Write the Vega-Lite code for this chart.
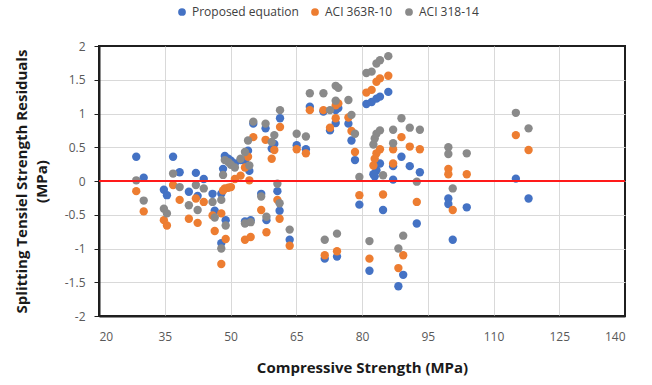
{
  "$schema": "https://vega.github.io/schema/vega-lite/v6.json",
  "width": 526,
  "height": 270,
  "autosize": {"type": "none"},
  "padding": {"left": 99, "top": 46, "right": 27, "bottom": 69},
  "background": "white",
  "config": {
    "font": "Open Sans",
    "view": {"stroke": "#1f1f1f", "strokeWidth": 2, "strokeOpacity": 1},
    "axis": {"gridWidth": 1, "labelColor": "#595959", "labelFontSize": 12, "titleColor": "#1a1a1a", "titleFontSize": 15, "titleFontWeight": "bold", "domain": true, "domainColor": "#1f1f1f", "domainWidth": 2, "tickColor": "#1f1f1f", "labelOverlap": false}
  },
  "data": {"values": [
    {"x":28.5,"y":0.36,"s":"Proposed equation"},{"x":30.2,"y":0.05,"s":"Proposed equation"},{"x":34.8,"y":-0.13,"s":"Proposed equation"},{"x":35.5,"y":-0.21,"s":"Proposed equation"},{"x":36.9,"y":0.36,"s":"Proposed equation"},{"x":38.4,"y":0.13,"s":"Proposed equation"},{"x":40.5,"y":-0.16,"s":"Proposed equation"},{"x":42.1,"y":0.12,"s":"Proposed equation"},{"x":42.5,"y":-0.22,"s":"Proposed equation"},{"x":43.9,"y":0.03,"s":"Proposed equation"},{"x":45.9,"y":-0.19,"s":"Proposed equation"},{"x":46.4,"y":-0.44,"s":"Proposed equation"},{"x":47.9,"y":-0.19,"s":"Proposed equation"},{"x":48.9,"y":-0.58,"s":"Proposed equation"},{"x":47.9,"y":-0.92,"s":"Proposed equation"},{"x":48.7,"y":0.37,"s":"Proposed equation"},{"x":49.5,"y":0.33,"s":"Proposed equation"},{"x":50.1,"y":0.3,"s":"Proposed equation"},{"x":48.3,"y":0.18,"s":"Proposed equation"},{"x":51.0,"y":0.26,"s":"Proposed equation"},{"x":52.3,"y":0.31,"s":"Proposed equation"},{"x":53.3,"y":0.3,"s":"Proposed equation"},{"x":54.0,"y":0.45,"s":"Proposed equation"},{"x":54.3,"y":0.15,"s":"Proposed equation"},{"x":55.2,"y":0.85,"s":"Proposed equation"},{"x":58.0,"y":0.78,"s":"Proposed equation"},{"x":59.4,"y":0.48,"s":"Proposed equation"},{"x":60.0,"y":0.55,"s":"Proposed equation"},{"x":61.3,"y":0.93,"s":"Proposed equation"},{"x":53.3,"y":-0.6,"s":"Proposed equation"},{"x":54.6,"y":-0.58,"s":"Proposed equation"},{"x":57.0,"y":-0.19,"s":"Proposed equation"},{"x":58.2,"y":-0.58,"s":"Proposed equation"},{"x":60.7,"y":-0.15,"s":"Proposed equation"},{"x":61.2,"y":-0.44,"s":"Proposed equation"},{"x":63.5,"y":-0.87,"s":"Proposed equation"},{"x":65.1,"y":0.53,"s":"Proposed equation"},{"x":67.2,"y":0.47,"s":"Proposed equation"},{"x":68.1,"y":1.1,"s":"Proposed equation"},{"x":71.2,"y":1.03,"s":"Proposed equation"},{"x":72.7,"y":0.75,"s":"Proposed equation"},{"x":74.0,"y":1.05,"s":"Proposed equation"},{"x":74.6,"y":1.08,"s":"Proposed equation"},{"x":74.0,"y":0.86,"s":"Proposed equation"},{"x":76.9,"y":0.85,"s":"Proposed equation"},{"x":77.6,"y":0.6,"s":"Proposed equation"},{"x":78.4,"y":0.31,"s":"Proposed equation"},{"x":79.4,"y":-0.35,"s":"Proposed equation"},{"x":71.5,"y":-1.15,"s":"Proposed equation"},{"x":74.3,"y":-1.12,"s":"Proposed equation"},{"x":81.0,"y":1.14,"s":"Proposed equation"},{"x":82.2,"y":1.17,"s":"Proposed equation"},{"x":83.3,"y":1.22,"s":"Proposed equation"},{"x":84.1,"y":1.25,"s":"Proposed equation"},{"x":86.0,"y":1.32,"s":"Proposed equation"},{"x":84.1,"y":0.26,"s":"Proposed equation"},{"x":83.3,"y":0.16,"s":"Proposed equation"},{"x":82.9,"y":0.07,"s":"Proposed equation"},{"x":82.6,"y":0.1,"s":"Proposed equation"},{"x":84.8,"y":-0.43,"s":"Proposed equation"},{"x":87.1,"y":0.22,"s":"Proposed equation"},{"x":87.1,"y":0.02,"s":"Proposed equation"},{"x":89.0,"y":0.36,"s":"Proposed equation"},{"x":90.9,"y":0.22,"s":"Proposed equation"},{"x":93.2,"y":0.13,"s":"Proposed equation"},{"x":92.5,"y":-0.63,"s":"Proposed equation"},{"x":81.7,"y":-1.33,"s":"Proposed equation"},{"x":89.4,"y":-1.39,"s":"Proposed equation"},{"x":88.3,"y":-1.56,"s":"Proposed equation"},{"x":99.7,"y":-0.26,"s":"Proposed equation"},{"x":99.7,"y":-0.34,"s":"Proposed equation"},{"x":100.7,"y":-0.87,"s":"Proposed equation"},{"x":103.9,"y":-0.39,"s":"Proposed equation"},{"x":115.1,"y":0.035,"s":"Proposed equation"},{"x":118.0,"y":-0.26,"s":"Proposed equation"},
    {"x":28.5,"y":-0.15,"s":"ACI 363R-10"},{"x":30.2,"y":-0.45,"s":"ACI 363R-10"},{"x":34.8,"y":-0.58,"s":"ACI 363R-10"},{"x":35.5,"y":-0.66,"s":"ACI 363R-10"},{"x":36.9,"y":-0.06,"s":"ACI 363R-10"},{"x":38.4,"y":-0.28,"s":"ACI 363R-10"},{"x":40.5,"y":-0.56,"s":"ACI 363R-10"},{"x":42.1,"y":-0.26,"s":"ACI 363R-10"},{"x":42.5,"y":-0.62,"s":"ACI 363R-10"},{"x":43.9,"y":-0.31,"s":"ACI 363R-10"},{"x":45.9,"y":-0.51,"s":"ACI 363R-10"},{"x":46.4,"y":-0.74,"s":"ACI 363R-10"},{"x":47.9,"y":-0.48,"s":"ACI 363R-10"},{"x":48.9,"y":-0.86,"s":"ACI 363R-10"},{"x":47.9,"y":-1.23,"s":"ACI 363R-10"},{"x":48.7,"y":-0.11,"s":"ACI 363R-10"},{"x":49.5,"y":-0.1,"s":"ACI 363R-10"},{"x":50.1,"y":-0.09,"s":"ACI 363R-10"},{"x":48.3,"y":-0.14,"s":"ACI 363R-10"},{"x":51.0,"y":0.03,"s":"ACI 363R-10"},{"x":52.3,"y":0.08,"s":"ACI 363R-10"},{"x":53.3,"y":0.2,"s":"ACI 363R-10"},{"x":54.0,"y":0.36,"s":"ACI 363R-10"},{"x":54.3,"y":0.01,"s":"ACI 363R-10"},{"x":55.2,"y":0.65,"s":"ACI 363R-10"},{"x":58.0,"y":0.61,"s":"ACI 363R-10"},{"x":59.4,"y":0.33,"s":"ACI 363R-10"},{"x":60.0,"y":0.46,"s":"ACI 363R-10"},{"x":61.3,"y":0.8,"s":"ACI 363R-10"},{"x":53.3,"y":-0.87,"s":"ACI 363R-10"},{"x":54.6,"y":-0.83,"s":"ACI 363R-10"},{"x":57.0,"y":-0.43,"s":"ACI 363R-10"},{"x":58.2,"y":-0.76,"s":"ACI 363R-10"},{"x":60.7,"y":-0.28,"s":"ACI 363R-10"},{"x":61.2,"y":-0.56,"s":"ACI 363R-10"},{"x":63.5,"y":-0.96,"s":"ACI 363R-10"},{"x":65.1,"y":0.47,"s":"ACI 363R-10"},{"x":67.2,"y":0.41,"s":"ACI 363R-10"},{"x":68.1,"y":1.05,"s":"ACI 363R-10"},{"x":71.2,"y":1.05,"s":"ACI 363R-10"},{"x":72.7,"y":0.79,"s":"ACI 363R-10"},{"x":74.0,"y":1.12,"s":"ACI 363R-10"},{"x":74.6,"y":1.15,"s":"ACI 363R-10"},{"x":74.0,"y":0.93,"s":"ACI 363R-10"},{"x":76.9,"y":0.94,"s":"ACI 363R-10"},{"x":77.6,"y":0.74,"s":"ACI 363R-10"},{"x":78.4,"y":0.43,"s":"ACI 363R-10"},{"x":79.4,"y":-0.21,"s":"ACI 363R-10"},{"x":71.5,"y":-1.1,"s":"ACI 363R-10"},{"x":74.3,"y":-1.04,"s":"ACI 363R-10"},{"x":81.0,"y":1.31,"s":"ACI 363R-10"},{"x":82.2,"y":1.35,"s":"ACI 363R-10"},{"x":83.3,"y":1.47,"s":"ACI 363R-10"},{"x":84.1,"y":1.52,"s":"ACI 363R-10"},{"x":86.0,"y":1.56,"s":"ACI 363R-10"},{"x":84.1,"y":0.47,"s":"ACI 363R-10"},{"x":83.3,"y":0.41,"s":"ACI 363R-10"},{"x":82.9,"y":0.33,"s":"ACI 363R-10"},{"x":82.6,"y":0.23,"s":"ACI 363R-10"},{"x":84.8,"y":-0.2,"s":"ACI 363R-10"},{"x":87.1,"y":0.47,"s":"ACI 363R-10"},{"x":87.1,"y":0.26,"s":"ACI 363R-10"},{"x":89.0,"y":0.65,"s":"ACI 363R-10"},{"x":90.9,"y":0.51,"s":"ACI 363R-10"},{"x":93.2,"y":0.47,"s":"ACI 363R-10"},{"x":92.5,"y":-0.31,"s":"ACI 363R-10"},{"x":81.7,"y":-1.15,"s":"ACI 363R-10"},{"x":89.4,"y":-1.1,"s":"ACI 363R-10"},{"x":88.3,"y":-1.29,"s":"ACI 363R-10"},{"x":99.7,"y":0.18,"s":"ACI 363R-10"},{"x":99.7,"y":0.1,"s":"ACI 363R-10"},{"x":100.7,"y":-0.43,"s":"ACI 363R-10"},{"x":103.9,"y":0.1,"s":"ACI 363R-10"},{"x":115.1,"y":0.68,"s":"ACI 363R-10"},{"x":118.0,"y":0.46,"s":"ACI 363R-10"},
    {"x":28.5,"y":0.01,"s":"ACI 318-14"},{"x":30.2,"y":-0.29,"s":"ACI 318-14"},{"x":34.8,"y":-0.41,"s":"ACI 318-14"},{"x":35.5,"y":-0.48,"s":"ACI 318-14"},{"x":36.9,"y":0.11,"s":"ACI 318-14"},{"x":38.4,"y":-0.09,"s":"ACI 318-14"},{"x":40.5,"y":-0.36,"s":"ACI 318-14"},{"x":42.1,"y":-0.06,"s":"ACI 318-14"},{"x":42.5,"y":-0.43,"s":"ACI 318-14"},{"x":43.9,"y":-0.11,"s":"ACI 318-14"},{"x":45.9,"y":-0.31,"s":"ACI 318-14"},{"x":46.4,"y":-0.54,"s":"ACI 318-14"},{"x":47.9,"y":-0.28,"s":"ACI 318-14"},{"x":48.9,"y":-0.66,"s":"ACI 318-14"},{"x":47.9,"y":-1.0,"s":"ACI 318-14"},{"x":48.7,"y":0.31,"s":"ACI 318-14"},{"x":49.5,"y":0.28,"s":"ACI 318-14"},{"x":50.1,"y":0.24,"s":"ACI 318-14"},{"x":48.3,"y":0.09,"s":"ACI 318-14"},{"x":51.0,"y":0.2,"s":"ACI 318-14"},{"x":52.3,"y":0.33,"s":"ACI 318-14"},{"x":53.3,"y":0.43,"s":"ACI 318-14"},{"x":54.0,"y":0.6,"s":"ACI 318-14"},{"x":54.3,"y":0.23,"s":"ACI 318-14"},{"x":55.2,"y":0.88,"s":"ACI 318-14"},{"x":58.0,"y":0.85,"s":"ACI 318-14"},{"x":59.4,"y":0.58,"s":"ACI 318-14"},{"x":60.0,"y":0.68,"s":"ACI 318-14"},{"x":61.3,"y":1.05,"s":"ACI 318-14"},{"x":53.3,"y":-0.63,"s":"ACI 318-14"},{"x":54.6,"y":-0.61,"s":"ACI 318-14"},{"x":57.0,"y":-0.23,"s":"ACI 318-14"},{"x":58.2,"y":-0.53,"s":"ACI 318-14"},{"x":60.7,"y":-0.04,"s":"ACI 318-14"},{"x":61.2,"y":-0.33,"s":"ACI 318-14"},{"x":63.5,"y":-0.72,"s":"ACI 318-14"},{"x":65.1,"y":0.7,"s":"ACI 318-14"},{"x":67.2,"y":0.66,"s":"ACI 318-14"},{"x":68.1,"y":1.3,"s":"ACI 318-14"},{"x":71.2,"y":1.3,"s":"ACI 318-14"},{"x":72.7,"y":1.05,"s":"ACI 318-14"},{"x":74.0,"y":1.41,"s":"ACI 318-14"},{"x":74.6,"y":1.38,"s":"ACI 318-14"},{"x":74.0,"y":1.19,"s":"ACI 318-14"},{"x":76.9,"y":1.2,"s":"ACI 318-14"},{"x":77.6,"y":0.98,"s":"ACI 318-14"},{"x":78.4,"y":0.7,"s":"ACI 318-14"},{"x":79.4,"y":0.06,"s":"ACI 318-14"},{"x":71.5,"y":-0.87,"s":"ACI 318-14"},{"x":74.3,"y":-0.78,"s":"ACI 318-14"},{"x":81.0,"y":1.6,"s":"ACI 318-14"},{"x":82.2,"y":1.62,"s":"ACI 318-14"},{"x":83.3,"y":1.74,"s":"ACI 318-14"},{"x":84.1,"y":1.79,"s":"ACI 318-14"},{"x":86.0,"y":1.85,"s":"ACI 318-14"},{"x":84.1,"y":0.75,"s":"ACI 318-14"},{"x":83.3,"y":0.7,"s":"ACI 318-14"},{"x":82.9,"y":0.63,"s":"ACI 318-14"},{"x":82.6,"y":0.54,"s":"ACI 318-14"},{"x":84.8,"y":0.085,"s":"ACI 318-14"},{"x":87.1,"y":0.76,"s":"ACI 318-14"},{"x":87.1,"y":0.56,"s":"ACI 318-14"},{"x":89.0,"y":0.93,"s":"ACI 318-14"},{"x":90.9,"y":0.79,"s":"ACI 318-14"},{"x":93.2,"y":0.76,"s":"ACI 318-14"},{"x":92.5,"y":-0.01,"s":"ACI 318-14"},{"x":81.7,"y":-0.89,"s":"ACI 318-14"},{"x":89.4,"y":-0.81,"s":"ACI 318-14"},{"x":88.3,"y":-1.0,"s":"ACI 318-14"},{"x":99.7,"y":0.5,"s":"ACI 318-14"},{"x":99.7,"y":0.4,"s":"ACI 318-14"},{"x":100.7,"y":-0.11,"s":"ACI 318-14"},{"x":103.9,"y":0.41,"s":"ACI 318-14"},{"x":115.1,"y":1.01,"s":"ACI 318-14"},{"x":118.0,"y":0.78,"s":"ACI 318-14"}
  ]},
  "encoding": {
    "y": {"type": "quantitative", "scale": {"domain": [-2, 2], "nice": false}, "axis": {"values": [-2, -1.5, -1, -0.5, 0, 0.5, 1, 1.5, 2], "labelExpr": "toString(datum.value)", "gridColor": {"condition": {"test": "abs(datum.value) == 2", "value": "transparent"}, "value": "#d9d9d9"}, "title": ["Splitting Tensiel Strength Residuals", "(MPa)"], "titlePadding": 15, "titleLineHeight": 20, "labelPadding": 9, "tickSize": 5}}
  },
  "layer": [
    {
      "mark": {"type": "circle", "size": 70, "opacity": 1},
      "encoding": {
        "x": {"field": "x", "type": "quantitative", "scale": {"domain": [20, 140], "nice": false}, "axis": {"values": [20, 35, 50, 65, 80, 95, 110, 125, 140], "gridColor": {"condition": {"test": "datum.value == 20 || datum.value == 140", "value": "transparent"}, "value": "#d9d9d9"}, "title": "Compressive Strength (MPa)", "titlePadding": 18, "labelPadding": 15, "ticks": false}},
        "y": {"field": "y"},
        "color": {"field": "s", "type": "nominal", "sort": ["Proposed equation", "ACI 363R-10", "ACI 318-14"], "scale": {"domain": ["Proposed equation", "ACI 363R-10", "ACI 318-14"], "range": ["#4472C4", "#ED7D31", "#8a8a8a"]},
          "legend": {"title": null, "orient": "none", "direction": "horizontal", "legendX": 77, "legendY": -40, "symbolType": "circle", "symbolSize": 60, "labelFontSize": 12, "labelColor": "#404040", "columnPadding": 10}}
      }
    },
    {
      "mark": {"type": "rule", "color": "#FF1a1a", "strokeWidth": 2},
      "encoding": {"y": {"datum": 0}}
    }
  ]
}
